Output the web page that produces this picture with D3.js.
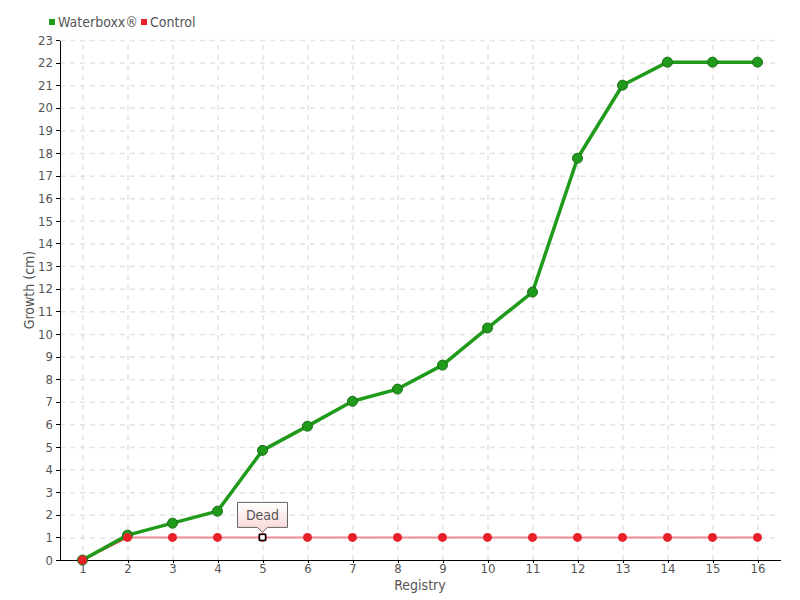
<!DOCTYPE html>
<html>
<head>
<meta charset="utf-8">
<script src="https://d3js.org/d3.v7.min.js"></script>
<style>
  body { margin: 0; background: #fff; }
  text { font-family: "DejaVu Sans Condensed", "DejaVu Sans", sans-serif; fill: #555; }
  .grid line { stroke: #e4e4e4; stroke-dasharray: 5,5; stroke-width: 1.5; }
  .grid path { display: none; }
  .axis path, .axis line { stroke: #000; shape-rendering: crispEdges; }
  .axis text { font-size: 13px; fill: #555; }
</style>
</head>
<body>
<div id="chart"></div>
<script>
// data
var registry = ["1","2","3","4","5","6","7","8","9","10","11","12","13","14","15","16"];
var waterboxx = [0, 1.1, 1.63, 2.16, 4.85, 5.92, 7.02, 7.56, 8.62, 10.26, 11.85, 17.77, 21.0, 22.02, 22.02, 22.02];
var control = [0, 1, 1, 1, 1, 1, 1, 1, 1, 1, 1, 1, 1, 1, 1, 1];
var deadIndex = 4;
var yTicks = d3.range(0, 24);

var W = 800, H = 600;
var margin = {top: 40, right: 20, bottom: 40, left: 60};
var width = W - margin.left - margin.right,
    height = H - margin.top - margin.bottom;

var svg = d3.select("#chart").append("svg")
    .attr("width", W).attr("height", H);

var defs = svg.append("defs");
var grad = defs.append("linearGradient").attr("id", "tipGrad")
    .attr("x1", 0).attr("y1", 0).attr("x2", 0).attr("y2", 1);
grad.append("stop").attr("offset", "0%").attr("stop-color", "#ffffff");
grad.append("stop").attr("offset", "100%").attr("stop-color", "#f9d4d4");

var g = svg.append("g").attr("transform", "translate(" + margin.left + "," + margin.top + ")");

var x = d3.scalePoint().domain(registry).range([0, width]).padding(0.5);
var y = d3.scaleLinear().domain([0, 23]).range([height, 0]);

// grid
g.append("g").attr("class", "grid")
  .call(d3.axisLeft(y).tickValues(yTicks.slice(1)).tickSize(-width).tickFormat(""));
g.append("g").attr("class", "grid")
  .attr("transform", "translate(0," + height + ")")
  .call(d3.axisBottom(x).tickSize(-height).tickFormat(""));

// axes
g.append("g").attr("class", "axis")
  .attr("transform", "translate(0," + height + ")")
  .call(d3.axisBottom(x).tickSize(3).tickSizeOuter(0).tickPadding(1));
g.append("g").attr("class", "axis")
  .call(d3.axisLeft(y).tickValues(yTicks).tickSize(4).tickSizeOuter(0).tickPadding(3));

g.append("text")
  .attr("x", width / 2).attr("y", height + 30)
  .attr("text-anchor", "middle").style("font-size", "14px")
  .text("Registry");
g.append("text")
  .attr("transform", "rotate(-90)")
  .attr("x", -height / 2 + 10).attr("y", -26)
  .attr("text-anchor", "middle").style("font-size", "14px")
  .text("Growth (cm)");

var line = d3.line()
  .x(function(d, i) { return x(registry[i]); })
  .y(function(d) { return y(d); });

// control line
g.append("path").datum(control)
  .attr("d", line)
  .attr("fill", "none")
  .attr("stroke", "#f28c94")
  .attr("stroke-width", 2);
g.append("path").datum(control.slice(0, 2))
  .attr("d", line)
  .attr("fill", "none")
  .attr("stroke", "#e8202a")
  .attr("stroke-width", 1.5);

// waterboxx line
g.append("path").datum(waterboxx)
  .attr("d", line)
  .attr("fill", "none")
  .attr("stroke", "#1f9a1a")
  .attr("stroke-width", 3.5)
  .attr("stroke-linejoin", "round");

g.selectAll(".wdot").data(waterboxx).enter().append("circle")
  .attr("class", "wdot")
  .attr("cx", function(d, i) { return x(registry[i]); })
  .attr("cy", function(d) { return y(d); })
  .attr("r", 5)
  .attr("fill", "#1f9a1a")
  .attr("stroke", "#1a6e16")
  .attr("stroke-width", 1);

// control dots
g.selectAll(".cdot").data(control).enter().append("circle")
  .attr("class", "cdot")
  .attr("cx", function(d, i) { return x(registry[i]); })
  .attr("cy", function(d) { return y(d); })
  .attr("r", 4.5)
  .attr("fill", "#e8202a");

// dead marker
var dx = x(registry[deadIndex]), dy = y(control[deadIndex]);
g.append("rect").attr("x", dx - 3).attr("y", dy - 3).attr("width", 6).attr("height", 6)
  .attr("fill", "#fff").attr("stroke", "#000").attr("stroke-width", 1.5);

// callout
var bw = 50, bh = 25, by = dy - 10 - bh;
g.append("path")
  .attr("d", "M" + (dx - bw / 2) + "," + by + "h" + bw + "v" + bh + "h" + (-bw / 2 + 5) +
        "l-5,5l-5,-5h" + (-bw / 2 + 5) + "z")
  .attr("fill", "url(#tipGrad)")
  .attr("stroke", "#666")
  .attr("stroke-width", 1);
g.append("text").attr("x", dx).attr("y", by + 18)
  .attr("text-anchor", "middle").style("font-size", "14px")
  .text("Dead");

// legend
var legend = svg.append("g").attr("transform", "translate(49,22)");
var items = [{name: "Waterboxx\u00ae", color: "#1f9a1a", x: 0}, {name: "Control", color: "#e8202a", x: 92}];
items.forEach(function(it) {
  legend.append("rect").attr("x", it.x).attr("y", -3).attr("width", 6).attr("height", 6).attr("fill", it.color);
  legend.append("text").attr("x", it.x + 9).attr("y", 5).style("font-size", "14px").text(it.name);
});
</script>
</body>
</html>
